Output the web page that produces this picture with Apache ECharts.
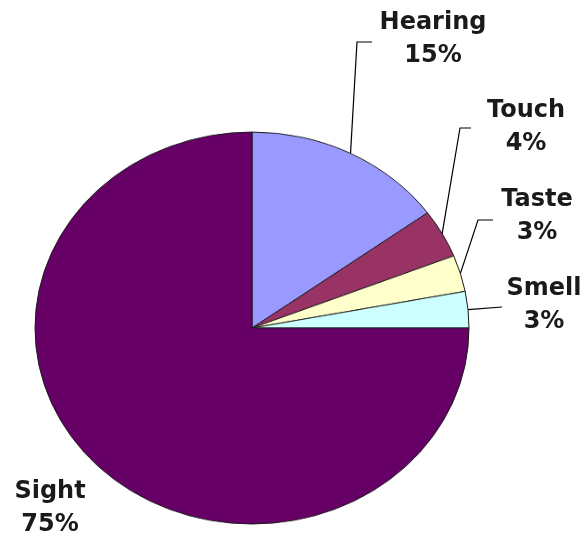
<!DOCTYPE html>
<html>
<head>
<meta charset="utf-8">
<script src="https://cdn.jsdelivr.net/npm/echarts@6/dist/echarts.min.js"></script>
<style>
  html, body { margin: 0; padding: 0; background: #fff; }
  #wrap { position: relative; width: 588px; height: 537px; overflow: hidden; }
  #pie, #labels { position: absolute; left: 0; top: 0; width: 588px; }
  #labels { height: 537px; }
  /* the pie is drawn flattened into an ellipse; its canvas is tall enough for the full circle */
  #pie { height: 600px; transform: scaleY(0.9032); transform-origin: 0 328px; }
</style>
</head>
<body>
<div id="wrap">
  <div id="pie"></div>
  <div id="labels"></div>
</div>
<script>
// Share of perception by sense (%)
const categories = ['Hearing', 'Touch', 'Taste', 'Smell', 'Sight'];
const shares = [15, 4, 3, 3, 75];
const sliceColors = ['#9999FF', '#993366', '#FFFFCC', '#CCFFFF', '#660066'];

// geometry
const CX = 252, CY = 328, R = 217, SQUASH = 0.9032;

// label placement: text centre, plus elbow / end of the leader line
const labelPlacement = {
  Hearing: { pos: [433, 39],  elbow: [357, 42],  end: [372, 42] },
  Touch:   { pos: [526, 127], elbow: [460, 128], end: [471, 128] },
  Taste:   { pos: [537, 216], elbow: [478, 220], end: [493, 220] },
  Smell:   { pos: [544, 305], elbow: null,       end: [502, 307] },
  Sight:   { pos: [50, 508],  elbow: null,       end: null }
};

const pieData = categories.map((name, i) => ({
  name: name,
  value: shares[i],
  itemStyle: { color: sliceColors[i] }
}));

const baseSeries = {
  type: 'pie',
  center: [CX, CY],
  radius: R,
  startAngle: 90,
  clockwise: true,
  avoidLabelOverlap: false,
  animation: false,
  silent: true,
  emphasis: { disabled: true }
};

// filled slices
const pieChart = echarts.init(document.getElementById('pie'), null, { renderer: 'canvas' });
pieChart.setOption({
  animation: false,
  series: [Object.assign({}, baseSeries, {
    data: pieData,
    label: { show: false },
    labelLine: { show: false },
    itemStyle: { borderColor: '#1a1a1a', borderWidth: 1 }
  })]
});

// labels and leader lines on the same angular layout
const labelChart = echarts.init(document.getElementById('labels'), null, { renderer: 'canvas' });
labelChart.setOption({
  animation: false,
  series: [Object.assign({}, baseSeries, {
    data: categories.map((name, i) => ({
      name: name,
      value: shares[i],
      labelLine: { show: name !== 'Sight' }
    })),
    itemStyle: { color: 'rgba(0,0,0,0)', borderWidth: 0 },
    label: {
      show: true,
      position: 'outside',
      formatter: '{b}\n{c}%',
      fontFamily: 'DejaVu Sans',
      fontWeight: 'bold',
      fontSize: 24,
      lineHeight: 33,
      color: '#1a1a1a',
      align: 'center'
    },
    labelLine: {
      show: true,
      length: 20,
      length2: 10,
      lineStyle: { color: '#000', width: 1.2 }
    },
    labelLayout: function (params) {
      const name = categories[params.dataIndex];
      const spot = labelPlacement[name];
      const out = {
        x: spot.pos[0],
        y: spot.pos[1],
        align: 'center',
        verticalAlign: 'middle'
      };
      if (spot.end && params.labelLinePoints) {
        const p0 = params.labelLinePoints[0];
        const start = [p0[0], CY + (p0[1] - CY) * SQUASH];
        out.labelLinePoints = spot.elbow
          ? [start, spot.elbow, spot.end]
          : [start, start, spot.end];
      }
      return out;
    }
  })]
});
</script>
</body>
</html>
